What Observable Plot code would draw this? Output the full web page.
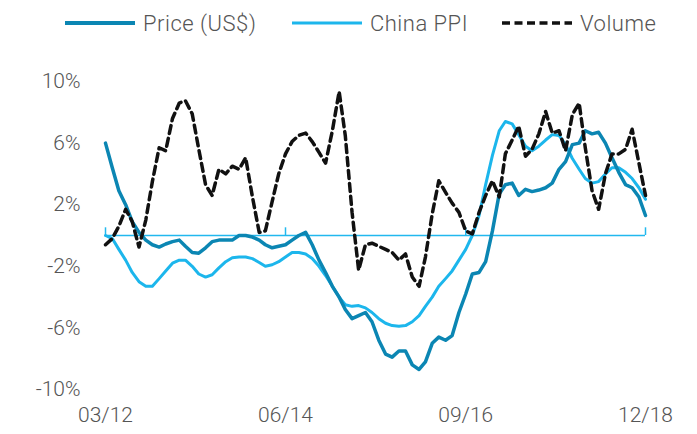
<!DOCTYPE html>
<html>
<head>
<meta charset="utf-8">
<script src="https://cdn.jsdelivr.net/npm/d3@7"></script>
<script src="https://cdn.jsdelivr.net/npm/@observablehq/plot@0.6"></script>
<style>
  html, body { margin: 0; padding: 0; background: #fff; }
  body { width: 697px; height: 434px; overflow: hidden; font-family: Roboto, "Noto Sans", sans-serif; font-weight: 300; color: #555; }
  #legend { position: relative; height: 44px; width: 697px; }
  .item { position: absolute; top: 8px; height: 30px; display: flex; align-items: center; font-size: 22px; letter-spacing: 0.5px; }
  .item svg { margin-right: 7px; }
</style>
</head>
<body>
<div id="legend"></div>
<div id="chart"></div>
<script>
// Monthly data, 03/2012 .. 12/2018 (82 months), % year-on-year
const startYear = 2012, startMonth = 2; // March 2012 (0-based month)
const price = [6.0, 4.4, 2.9, 2.0, 0.9, 0.2, -0.3, -0.6, -0.75, -0.55, -0.4, -0.3, -0.7, -1.1, -1.15, -0.8, -0.4, -0.3, -0.3, -0.3,
  0.0, 0.0, -0.1, -0.3, -0.6, -0.8, -0.7, -0.6, -0.3, 0.0, 0.2, -0.6, -1.6, -2.4, -3.3, -4.0, -4.8, -5.4, -5.2, -5.0,
  -5.6, -6.8, -7.7, -7.9, -7.5, -7.5, -8.4, -8.7, -8.2, -7.0, -6.6, -6.8, -6.5, -5.0, -3.8, -2.5, -2.4, -1.7, 0.3, 2.7,
  3.3, 3.4, 2.6, 3.0, 2.85, 2.95, 3.1, 3.4, 4.3, 4.8, 5.9, 6.0, 6.8, 6.6, 6.7, 6.0, 5.05, 4.1, 3.3, 3.1, 2.5, 1.3];
const ppi = [0.0, -0.2, -0.9, -1.6, -2.4, -3.0, -3.3, -3.3, -2.8, -2.3, -1.8, -1.6, -1.6, -2.0, -2.5, -2.7, -2.55, -2.1, -1.7, -1.45,
  -1.4, -1.4, -1.5, -1.75, -2.0, -1.9, -1.7, -1.4, -1.1, -1.1, -1.2, -1.5, -2.0, -2.6, -3.3, -4.0, -4.5, -4.6, -4.55, -4.7,
  -5.0, -5.4, -5.7, -5.85, -5.9, -5.85, -5.6, -5.2, -4.6, -4.0, -3.3, -2.8, -2.3, -1.6, -0.9, 0.0, 1.3, 3.3, 5.2, 6.8,
  7.4, 7.25, 6.55, 5.8, 5.5, 5.8, 6.2, 6.55, 6.5, 5.9, 5.0, 4.3, 3.7, 3.4, 3.5, 4.0, 4.4, 4.4, 4.1, 3.7, 3.1, 2.35];
const volume = [-0.6, -0.2, 0.6, 1.7, 0.9, -0.75, 1.0, 3.5, 5.7, 5.5, 7.6, 8.6, 8.75, 7.9, 5.6, 3.3, 2.6, 4.3, 4.0, 4.5,
  4.3, 5.05, 2.5, 0.2, 0.3, 2.2, 4.0, 5.3, 6.1, 6.5, 6.65, 6.1, 5.4, 4.7, 6.8, 9.35, 6.5, 1.5, -2.25, -0.6,
  -0.5, -0.7, -0.9, -1.1, -1.6, -1.2, -2.7, -3.3, -1.4, 1.4, 3.55, 2.8, 2.1, 1.5, 0.3, 0.1, 1.5, 2.6, 3.55, 2.5,
  5.3, 6.2, 7.1, 5.15, 5.6, 6.6, 8.05, 6.65, 6.8, 5.5, 7.85, 8.6, 5.7, 2.9, 1.7, 4.0, 5.3, 5.3, 5.6, 6.9, 4.7, 2.6];
const seriesNames = ["Price (US$)", "China PPI", "Volume"];
const yTicks = [-10, -6, -2, 2, 6, 10];
const xTickLabels = ["03/12", "06/14", "09/16", "12/18"];

const colors = { price: "#0b86b3", ppi: "#1cb6ec", volume: "#111111", zero: "#22b8ee" };

const monthDate = i => new Date(Date.UTC(startYear, startMonth + i, 1));
const parseLabel = s => { const [mm, yy] = s.split("/").map(Number); return new Date(Date.UTC(2000 + yy, mm - 1, 1)); };
const xTicks = xTickLabels.map(parseLabel);
const fmt = d => String(d.getUTCMonth() + 1).padStart(2, "0") + "/" + String(d.getUTCFullYear() % 100).padStart(2, "0");

const rows = s => s.map((v, i) => ({ date: monthDate(i), value: v }));

// Legend
const legend = document.getElementById("legend");
const legendItems = [
  { name: seriesNames[0], color: colors.price, width: 4, dash: null, left: 64 },
  { name: seriesNames[1], color: colors.ppi, width: 3, dash: null, left: 291 },
  { name: seriesNames[2], color: colors.volume, width: 3.5, dash: "8,4.5", left: 501 }
];
for (const it of legendItems) {
  const div = document.createElement("div");
  div.className = "item";
  div.style.left = it.left + "px";
  div.innerHTML = `<svg width="72" height="10"><line x1="1" x2="71" y1="5" y2="5" stroke="${it.color}" stroke-width="${it.width}" ${it.dash ? `stroke-dasharray="${it.dash}"` : ""}/></svg><span>${it.name}</span>`;
  legend.appendChild(div);
}

const chart = Plot.plot({
  width: 697,
  height: 390,
  marginLeft: 105,
  marginRight: 52,
  marginTop: 37,
  marginBottom: 45,
  style: { fontFamily: "Roboto, 'Noto Sans', sans-serif", fontWeight: 300, color: "#555", background: "#fff" },
  x: { type: "utc", domain: [monthDate(0), monthDate(price.length - 1)] },
  y: { domain: [-10, 10] },
  marks: [
    Plot.axisY({ ticks: yTicks, tickFormat: d => d + "%", tickSize: 0, tickPadding: 25, fontSize: 21, fill: "#555", label: null }),
    Plot.axisX({ ticks: xTicks, tickFormat: fmt, tickSize: 0, tickPadding: 18, fontSize: 21, fill: "#555", label: null }),
    Plot.ruleY([0], { stroke: colors.zero, strokeWidth: 1.5 }),
    Plot.ruleX(xTicks, { y1: 0, y2: 0.5, stroke: colors.zero, strokeWidth: 1.5 }),
    Plot.lineY(rows(ppi), { x: "date", y: "value", stroke: colors.ppi, strokeWidth: 3 }),
    Plot.lineY(rows(price), { x: "date", y: "value", stroke: colors.price, strokeWidth: 3.5 }),
    Plot.lineY(rows(volume), { x: "date", y: "value", stroke: colors.volume, strokeWidth: 3.5, strokeDasharray: "8,5" })
  ]
});
document.getElementById("chart").appendChild(chart);
</script>
</body>
</html>
